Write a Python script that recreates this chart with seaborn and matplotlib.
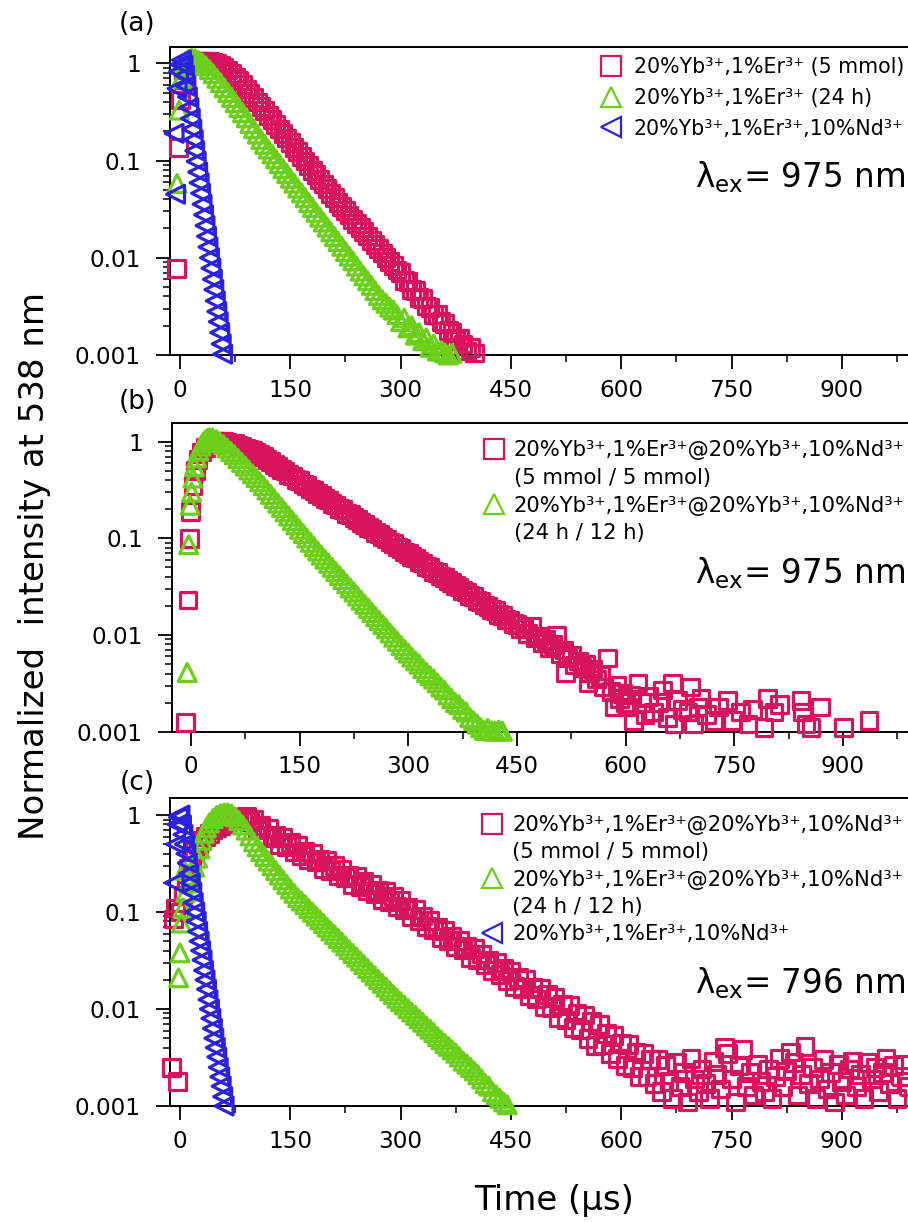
import numpy as np
import pandas as pd
import matplotlib
matplotlib.use("Agg")
import matplotlib.pyplot as plt
from matplotlib.lines import Line2D
from matplotlib.ticker import LogLocator, NullFormatter, FixedLocator
import seaborn as sns

sns.set_theme(style="white")
plt.rcParams["font.family"] = ["DejaVu Sans"]
plt.rcParams["mathtext.fontset"] = "dejavusans"
plt.rcParams["text.color"] = "black"
plt.rcParams["xtick.color"] = "black"
plt.rcParams["ytick.color"] = "black"

RED = "#D8145E"
GREEN = "#6CCF1C"
BLUE = "#2A22E0"

# ---------------- panel (a): 975 nm excitation ----------------
a_core_t = [-5, -2, 1, 4, 7, 10, 14, 18, 22, 26, 30, 35, 40, 45, 50, 55, 60, 65, 70, 75,
            80, 85, 90, 95, 100, 105, 110, 115, 120, 125, 130, 135, 140, 145, 150, 155, 160,
            165, 170, 175, 180, 185, 190, 195, 200, 205, 210, 215, 220, 225, 230, 235, 240,
            245, 250, 255, 260, 265, 270, 275, 280, 285, 290, 295, 300, 305, 310, 315, 320,
            325, 330, 335, 340, 345, 350, 355, 360, 365, 370, 375, 380, 385, 390, 395, 400]
a_core_i = [0.0078, 0.136, 0.42, 0.68, 0.85, 0.94, 0.99, 1.02, 1.04, 1.05, 1.05, 1.05, 1.04,
            1.03, 1.00, 0.96, 0.91, 0.85, 0.79, 0.72, 0.66, 0.60, 0.545, 0.49, 0.445, 0.40,
            0.36, 0.325, 0.292, 0.262, 0.235, 0.211, 0.189, 0.170, 0.152, 0.137, 0.123, 0.110,
            0.0986, 0.0885, 0.0794, 0.0712, 0.0639, 0.0573, 0.0514, 0.0461, 0.0414, 0.0371,
            0.0336, 0.0304, 0.0275, 0.0249, 0.0225, 0.0204, 0.0185, 0.0167, 0.0151, 0.0137,
            0.0124, 0.0112, 0.0101, 0.0092, 0.0083, 0.0075, 0.0071, 0.0058, 0.0057, 0.0047,
            0.0046, 0.0039, 0.0038, 0.0032, 0.0031, 0.0026, 0.0026, 0.0022, 0.0021, 0.0018,
            0.0017, 0.0014, 0.0015, 0.0013, 0.0011, 0.0012, 0.00105]

a_24h_t = [-4, -1, 2, 5, 8, 12, 16, 20, 25, 30, 35, 40, 45, 50, 55, 60, 65, 70, 75, 80, 85,
           90, 95, 100, 105, 110, 115, 120, 125, 130, 135, 140, 145, 150, 155, 160, 165, 170,
           175, 180, 185, 190, 195, 200, 205, 210, 215, 220, 225, 230, 235, 240, 245, 250,
           255, 260, 265, 270, 275, 280, 285, 290, 295, 300, 305, 310, 315, 320, 325, 330,
           335, 340, 345, 350, 355, 360, 365, 370]
a_24h_i = [0.058, 0.33, 0.70, 0.92, 1.05, 1.10, 1.12, 1.11, 1.07, 1.01, 0.94, 0.86, 0.78,
           0.70, 0.63, 0.56, 0.50, 0.445, 0.395, 0.35, 0.31, 0.275, 0.24, 0.212, 0.187, 0.165,
           0.147, 0.131, 0.117, 0.104, 0.0927, 0.0826, 0.0736, 0.0656, 0.0585, 0.0521, 0.0464,
           0.0414, 0.0369, 0.0329, 0.0293, 0.0261, 0.0233, 0.0207, 0.0185, 0.0165, 0.0147,
           0.0131, 0.0116, 0.0104, 0.0093, 0.0082, 0.0073, 0.0065, 0.0058, 0.0052, 0.0046,
           0.0041, 0.0037, 0.0034, 0.0031, 0.0029, 0.0026, 0.0022, 0.0024, 0.0019, 0.0020,
           0.0016, 0.0017, 0.0014, 0.0015, 0.0012, 0.0013, 0.0011, 0.0011, 0.00105, 0.0010,
           0.00104]

a_nd_t = [-8, -6, -4, -2, 0, 2, 4, 6, 8, 10, 12, 14, 16, 18, 20, 22, 24, 26, 28, 30, 32, 34,
          36, 38, 40, 42, 44, 46, 48, 50, 52, 54, 56, 58]
a_nd_i = [0.19, 0.045, 0.55, 0.82, 0.97, 1.08, 0.95, 0.75, 0.58, 0.45, 0.35, 0.27, 0.21,
          0.163, 0.126, 0.098, 0.076, 0.059, 0.046, 0.0355, 0.0276, 0.0214, 0.0166, 0.0129,
          0.0100, 0.0078, 0.0060, 0.0047, 0.0036, 0.0028, 0.0022, 0.0017, 0.0013, 0.00102]

# ---------------- panel (b): core/shell, 975 nm excitation ----------------
b_5mm_t = [-7, -4, -2, 0, 3, 6, 10, 15, 20, 25, 30, 35, 40, 45, 50, 55, 60, 65, 70, 75, 80,
           85, 90, 95, 100, 105, 110, 115, 120, 125, 130, 135, 140, 145, 150, 155, 160, 165,
           170, 175, 180, 185, 190, 195, 200, 205, 210, 215, 220, 225, 230, 235, 240, 245,
           250, 255, 260, 265, 270, 275, 280, 285, 290, 295, 300, 305, 310, 315, 320, 325,
           330, 335, 340, 345, 350, 355, 360, 365, 370, 375, 380, 385, 390, 395, 400, 405,
           410, 415, 420, 425, 430, 435, 440, 445, 450, 455, 460, 465, 470, 475, 480, 485,
           490, 495, 500, 505, 510, 515, 517, 520, 525, 530, 535, 540, 545, 548, 550, 555,
           560, 565, 570, 575, 580, 584, 588, 592, 596, 600, 603, 607, 611, 617, 622, 627,
           632, 639, 645, 651, 658, 665, 667, 672, 678, 686, 690, 694, 700, 704, 712, 722,
           728, 741, 748, 759, 769, 775, 791, 796, 805, 812, 842, 844, 849, 856, 869, 901, 936]
b_5mm_i = [0.00125, 0.023, 0.10, 0.19, 0.35, 0.50, 0.65, 0.78, 0.87, 0.93, 0.97, 1.00, 1.01,
           1.00, 0.99, 0.97, 0.95, 0.92, 0.89, 0.86, 0.83, 0.805, 0.78, 0.736, 0.70, 0.652,
           0.625, 0.58, 0.556, 0.515, 0.497, 0.458, 0.443, 0.408, 0.395, 0.364, 0.352, 0.325,
           0.313, 0.289, 0.279, 0.257, 0.249, 0.229, 0.222, 0.204, 0.198, 0.182, 0.176, 0.163,
           0.157, 0.145, 0.140, 0.129, 0.125, 0.115, 0.111, 0.103, 0.0985, 0.0915, 0.0880,
           0.0815, 0.0785, 0.0725, 0.0700, 0.0648, 0.0625, 0.0577, 0.0557, 0.0514, 0.0496,
           0.0458, 0.0442, 0.0408, 0.0394, 0.0364, 0.0351, 0.0324, 0.0313, 0.0289, 0.0279,
           0.0257, 0.0249, 0.0229, 0.0222, 0.0204, 0.0199, 0.0183, 0.0179, 0.0163, 0.0160,
           0.0146, 0.0143, 0.0131, 0.0129, 0.0116, 0.0117, 0.0104, 0.0122, 0.0093, 0.0097,
           0.0083, 0.0090, 0.0074, 0.0080, 0.0100, 0.0064, 0.0070, 0.0041, 0.0058, 0.0062,
           0.0049, 0.0054, 0.0046, 0.0050, 0.0032, 0.0041, 0.0044, 0.0035, 0.0038, 0.0029,
           0.0058, 0.0026, 0.0018, 0.0030, 0.0022, 0.0025, 0.0020, 0.0018, 0.0024, 0.0013,
           0.0032, 0.0020, 0.0015, 0.0023, 0.0016, 0.0020, 0.0027, 0.0014, 0.0032, 0.0012,
           0.0021, 0.0017, 0.0016, 0.0029, 0.0012, 0.0018, 0.0022, 0.0015, 0.0013, 0.0018,
           0.0021, 0.0013, 0.0016, 0.0012, 0.0017, 0.0011, 0.0022, 0.0016, 0.0019, 0.0021,
           0.0016, 0.0012, 0.0011, 0.0018, 0.0011, 0.0013]

b_24h_t = [-5, -3, -1, 1, 3, 5, 8, 11, 14, 17, 20, 23, 26, 30, 35, 40, 45, 50, 55, 60, 65,
           70, 75, 80, 85, 90, 95, 100, 105, 110, 115, 120, 125, 130, 135, 140, 145, 150, 155,
           160, 165, 170, 175, 180, 185, 190, 195, 200, 205, 210, 215, 220, 225, 230, 235,
           240, 245, 250, 255, 260, 265, 270, 275, 280, 285, 290, 295, 300, 305, 310, 315,
           320, 325, 330, 335, 340, 345, 350, 355, 360, 365, 370, 375, 380, 385, 390, 395,
           400, 405, 410, 415, 420, 425, 430]
b_24h_i = [0.0041, 0.086, 0.22, 0.30, 0.42, 0.55, 0.68, 0.80, 0.90, 0.98, 1.04, 1.08, 1.10,
           1.09, 1.05, 0.99, 0.93, 0.86, 0.79, 0.73, 0.67, 0.61, 0.56, 0.51, 0.465, 0.425,
           0.385, 0.35, 0.316, 0.285, 0.257, 0.231, 0.209, 0.188, 0.170, 0.153, 0.138, 0.124,
           0.112, 0.101, 0.091, 0.082, 0.074, 0.0671, 0.0609, 0.0552, 0.0501, 0.0454, 0.0412,
           0.0374, 0.0339, 0.0307, 0.0279, 0.0253, 0.0229, 0.0208, 0.0189, 0.0171, 0.0155,
           0.0141, 0.0128, 0.0116, 0.0105, 0.0095, 0.0086, 0.0078, 0.0071, 0.0065, 0.0059,
           0.0054, 0.0050, 0.0045, 0.0041, 0.0038, 0.0035, 0.0032, 0.0029, 0.0027, 0.0024,
           0.0022, 0.0020, 0.0019, 0.0017, 0.0016, 0.0014, 0.0013, 0.0012, 0.0011, 0.00103,
           0.00108, 0.00102, 0.00101, 0.00104, 0.00101]

# ---------------- panel (c): 796 nm excitation ----------------
c_5mm_t = [-12, -9, -6, -3, 0, 4, 8, 12, 16, 20, 25, 30, 35, 40, 45, 50, 55, 60, 65, 70, 75,
           80, 85, 90, 95, 100, 105, 110, 115, 120, 125, 130, 135, 140, 145, 150, 155, 160,
           165, 170, 175, 180, 185, 190, 195, 200, 205, 210, 215, 220, 225, 230, 235, 240,
           245, 250, 255, 260, 265, 270, 275, 280, 285, 290, 295, 300, 305, 310, 315, 320,
           325, 330, 335, 340, 345, 350, 355, 360, 365, 370, 375, 380, 385, 390, 395, 400,
           405, 410, 415, 420, 425, 430, 435, 440, 445, 450, 455, 460, 465, 470, 475, 480,
           485, 490, 495, 500, 505, 510, 515, 520, 525, 530, 535, 540, 545, 550, 555, 560,
           565, 570, 575, 580, 585, 590, 595, 600, 605, 610, 615, 620, 625, 630, 635, 640,
           645, 650, 655, 660, 665, 670, 675, 680, 685, 690, 695, 700, 705, 710, 715, 720,
           725, 730, 735, 740, 745, 750, 755, 760, 765, 770, 775, 780, 785, 790, 795, 800,
           805, 810, 815, 820, 825, 830, 835, 840, 845, 850, 855, 860, 865, 870, 875, 880,
           885, 890, 895, 900, 905, 910, 915, 920, 925, 930, 935, 940, 945, 950, 955, 960,
           965, 970, 975, 980, 985, 990]
c_5mm_i = [0.0025, 0.085, 0.11, 0.0018, 0.10, 0.15, 0.21, 0.28, 0.35, 0.42, 0.49, 0.55,
           0.60, 0.65, 0.70, 0.74, 0.78, 0.82, 0.85, 0.88, 0.90, 0.92, 0.93, 0.98, 0.86,
           0.90, 0.70, 0.78, 0.62, 0.73, 0.59, 0.62, 0.50, 0.59, 0.475, 0.525, 0.417, 0.49,
           0.385, 0.424, 0.344, 0.40, 0.328, 0.35, 0.28, 0.34, 0.267, 0.30, 0.238, 0.278,
           0.229, 0.239, 0.194, 0.235, 0.185, 0.205, 0.165, 0.193, 0.155, 0.168, 0.134, 0.163,
           0.128, 0.144, 0.114, 0.133, 0.107, 0.113, 0.089, 0.106, 0.082, 0.091, 0.071, 0.082,
           0.066, 0.069, 0.055, 0.065, 0.051, 0.056, 0.044, 0.051, 0.041, 0.044, 0.034, 0.042,
           0.032, 0.037, 0.029, 0.032, 0.025, 0.030, 0.0227, 0.0262, 0.0198, 0.0245, 0.0171,
           0.0213, 0.0162, 0.0200, 0.0137, 0.0167, 0.0127, 0.0163, 0.0106, 0.0140, 0.0104,
           0.0131, 0.0082, 0.0112, 0.0077, 0.0108, 0.0065, 0.0091, 0.0061, 0.0087, 0.0050,
           0.0075, 0.0042, 0.0069, 0.0043, 0.0056, 0.0035, 0.0053, 0.0031, 0.0044, 0.0026,
           0.0043, 0.0025, 0.0036, 0.0020, 0.0035, 0.0020, 0.0030, 0.0017, 0.0030, 0.0014,
           0.0026, 0.0018, 0.0012, 0.0028, 0.0016, 0.0022, 0.0011, 0.0031, 0.0019, 0.0014,
           0.0024, 0.0017, 0.0012, 0.0029, 0.0021, 0.0015, 0.0040, 0.0035, 0.0019, 0.0011,
           0.0026, 0.0038, 0.0016, 0.0022, 0.0013, 0.0027, 0.0018, 0.0014, 0.0024, 0.0012,
           0.0020, 0.0031, 0.0016, 0.0023, 0.0036, 0.0028, 0.0013, 0.0021, 0.0041, 0.0017,
           0.0025, 0.0012, 0.0019, 0.0030, 0.0015, 0.0022, 0.0011, 0.0027, 0.0018, 0.0013,
           0.0024, 0.0029, 0.0016, 0.0021, 0.0012, 0.0028, 0.0019, 0.0025, 0.0014, 0.0022,
           0.0031, 0.0017, 0.0026, 0.0012, 0.0020, 0.0027, 0.0016]

c_24h_t = [-2, 0, 2, 4, 6, 8, 12, 16, 20, 24, 27, 30, 33, 36, 40, 45, 50, 55, 60, 65, 70,
           75, 80, 85, 90, 95, 100, 105, 110, 115, 120, 125, 130, 135, 140, 145, 150, 155,
           160, 165, 170, 175, 180, 185, 190, 195, 200, 205, 210, 215, 220, 225, 230, 235,
           240, 245, 250, 255, 260, 265, 270, 275, 280, 285, 290, 295, 300, 305, 310, 315,
           320, 325, 330, 335, 340, 345, 350, 355, 360, 365, 370, 375, 380, 385, 390, 395,
           400, 405, 410, 415, 420, 425, 430, 435, 440, 445]
c_24h_i = [0.021, 0.038, 0.077, 0.11, 0.27, 0.16, 0.20, 0.24, 0.29, 0.36, 0.45, 0.55, 0.65,
           0.74, 0.83, 0.92, 0.99, 1.03, 1.05, 1.05, 1.03, 0.96, 0.88, 0.79, 0.70, 0.61, 0.53,
           0.47, 0.42, 0.375, 0.335, 0.30, 0.268, 0.24, 0.215, 0.193, 0.173, 0.156, 0.141,
           0.130, 0.119, 0.109, 0.0995, 0.091, 0.0833, 0.0762, 0.0697, 0.0638, 0.0584, 0.0534,
           0.0489, 0.0447, 0.0409, 0.0374, 0.0343, 0.0313, 0.0287, 0.0262, 0.0240, 0.0220,
           0.0201, 0.0184, 0.0168, 0.0154, 0.0141, 0.0129, 0.0119, 0.0110, 0.0101, 0.0093,
           0.0086, 0.0079, 0.0073, 0.0067, 0.0062, 0.0057, 0.0052, 0.0048, 0.0044, 0.0041,
           0.0038, 0.0035, 0.0032, 0.0029, 0.0027, 0.0025, 0.0023, 0.0021, 0.0019, 0.0017,
           0.0016, 0.0014, 0.0013, 0.0012, 0.0011, 0.00103]

c_nd_t = [-8, -6, -4, -2, 0, 2, 4, 6, 8, 10, 12, 14, 16, 18, 20, 22, 24, 26, 28, 30, 32, 34,
          36, 38, 40, 42, 44, 46, 48, 50, 52, 54, 56, 58, 60]
c_nd_i = [0.20, 0.50, 0.80, 0.95, 1.00, 0.79, 0.63, 0.50, 0.40, 0.32, 0.25, 0.20, 0.16,
          0.125, 0.10, 0.080, 0.063, 0.050, 0.040, 0.032, 0.025, 0.020, 0.016, 0.0125,
          0.010, 0.0080, 0.0063, 0.0050, 0.0040, 0.0032, 0.0025, 0.0020, 0.0016, 0.00125,
          0.0010]

# ---------------- axes text ----------------
x_major = [0, 150, 300, 450, 600, 750, 900]
x_minor = [75, 225, 375, 525, 675, 825, 975]
y_major = [0.001, 0.01, 0.1, 1]
y_labels = ["0.001", "0.01", "0.1", "1"]

lab_a = ["20%Yb³⁺,1%Er³⁺ (5 mmol)",
         "20%Yb³⁺,1%Er³⁺ (24 h)",
         "20%Yb³⁺,1%Er³⁺,10%Nd³⁺"]
lab_cs = "20%Yb³⁺,1%Er³⁺@20%Yb³⁺,10%Nd³⁺"
lab_b = [lab_cs, "(5 mmol / 5 mmol)", lab_cs, "(24 h / 12 h)"]
lab_c = [lab_cs, "(5 mmol / 5 mmol)", lab_cs, "(24 h / 12 h)",
         "20%Yb³⁺,1%Er³⁺,10%Nd³⁺"]

W, H = 908, 1222
fig = plt.figure(figsize=(W / 100, H / 100), dpi=100)
fig.patch.set_facecolor("white")

SQ_S, TR_S = 145, 165


def draw(ax, t, v, marker, color, size, z):
    df = pd.DataFrame({"t": t, "v": v})
    sns.scatterplot(data=df, x="t", y="v", marker=marker, s=size, facecolor="none",
                    edgecolor=color, linewidth=2.3, ax=ax, clip_on=False, zorder=z,
                    legend=False)


def style(ax, xlim, ytop):
    ax.set_yscale("log")
    ax.set_xlim(*xlim)
    ax.set_ylim(0.001, ytop)
    ax.xaxis.set_major_locator(FixedLocator(x_major))
    ax.set_xticklabels([str(v) for v in x_major])
    ax.xaxis.set_minor_locator(FixedLocator(x_minor))
    ax.yaxis.set_major_locator(FixedLocator(y_major))
    ax.set_yticklabels(y_labels)
    ax.yaxis.set_minor_locator(LogLocator(base=10, subs=np.arange(2, 10)))
    ax.yaxis.set_minor_formatter(NullFormatter())
    ax.tick_params(which="major", direction="out", length=10, width=1.3,
                   labelsize=16.7, color="black", labelcolor="black")
    ax.tick_params(axis="x", which="major", pad=7)
    ax.tick_params(axis="y", which="major", pad=11)
    ax.tick_params(which="minor", direction="out", length=5, width=1.1, color="black")
    ax.tick_params(top=False, right=False, bottom=True, left=True, which="both")
    for s in ax.spines.values():
        s.set_linewidth(1.4)
        s.set_color("black")
    ax.set_xlabel("")
    ax.set_ylabel("")


def box(left, top, bottom):
    return [left / W, 1 - bottom / H, (912.5 - left) / W, (bottom - top) / H]


def handle(marker, color):
    return Line2D([], [], ls="none", marker=marker, ms=14, mfc="none", mec=color, mew=1.6)


blank = Line2D([], [], ls="none", marker="")
leg_kw = dict(loc="upper left", frameon=False, handlelength=1.0,
              borderpad=0, borderaxespad=0, labelcolor="black")

# (a)
ax_a = fig.add_axes(box(170, 46.7, 355))
draw(ax_a, a_core_t, a_core_i, "s", RED, SQ_S, 3)
draw(ax_a, a_24h_t, a_24h_i, "^", GREEN, TR_S, 4)
draw(ax_a, a_nd_t, a_nd_i, "<", BLUE, TR_S, 5)
style(ax_a, (-13.6, 996.1), 1.48)
ax_a.legend([handle("s", RED), handle("^", GREEN), handle("<", BLUE)], lab_a,
            bbox_to_anchor=(0.58, 0.966), fontsize=14.8, handletextpad=0.6,
            labelspacing=0.52, **leg_kw)
ax_a.text(0.99, 0.544, "λ$_{\\mathregular{ex}}$= 975 nm", transform=ax_a.transAxes,
          ha="right", va="baseline", fontsize=23.5)

# (b)
ax_b = fig.add_axes(box(172, 423.3, 731.7))
draw(ax_b, b_5mm_t, b_5mm_i, "s", RED, SQ_S, 3)
draw(ax_b, b_24h_t, b_24h_i, "^", GREEN, TR_S, 4)
style(ax_b, (-26, 996), 1.55)
ax_b.legend([handle("s", RED), blank, handle("^", GREEN), blank], lab_b,
            bbox_to_anchor=(0.42, 0.946), fontsize=15.2, handletextpad=0.45,
            labelspacing=0.37, **leg_kw)
ax_b.text(0.99, 0.482, "λ$_{\\mathregular{ex}}$= 975 nm", transform=ax_b.transAxes,
          ha="right", va="baseline", fontsize=23.5)

# (c)
ax_c = fig.add_axes(box(170, 798.3, 1106))
draw(ax_c, c_5mm_t, c_5mm_i, "s", RED, SQ_S, 3)
draw(ax_c, c_24h_t, c_24h_i, "^", GREEN, TR_S, 4)
draw(ax_c, c_nd_t, c_nd_i, "<", BLUE, TR_S, 5)
style(ax_c, (-13.6, 996.1), 1.49)
ax_c.legend([handle("s", RED), blank, handle("^", GREEN), blank, handle("<", BLUE)], lab_c,
            bbox_to_anchor=(0.42, 0.946), fontsize=15.2, handletextpad=0.45,
            labelspacing=0.35, **leg_kw)
ax_c.text(0.99, 0.367, "λ$_{\\mathregular{ex}}$= 796 nm", transform=ax_c.transAxes,
          ha="right", va="baseline", fontsize=23.5)

# panel tags and shared axis titles
for tag, yc in (("(a)", 24), ("(b)", 402), ("(c)", 783)):
    fig.text(137 / W, 1 - yc / H, tag, ha="center", va="center", fontsize=19)
fig.text(35 / W, 1 - 566 / H, "Normalized  intensity at 538 nm", rotation=90,
         ha="center", va="center", fontsize=24.5)
fig.text(554 / W, 1 - 1210 / H, "Time (μs)", ha="center", va="baseline", fontsize=24.5)

fig.savefig("out.png", dpi=100, facecolor="white")
